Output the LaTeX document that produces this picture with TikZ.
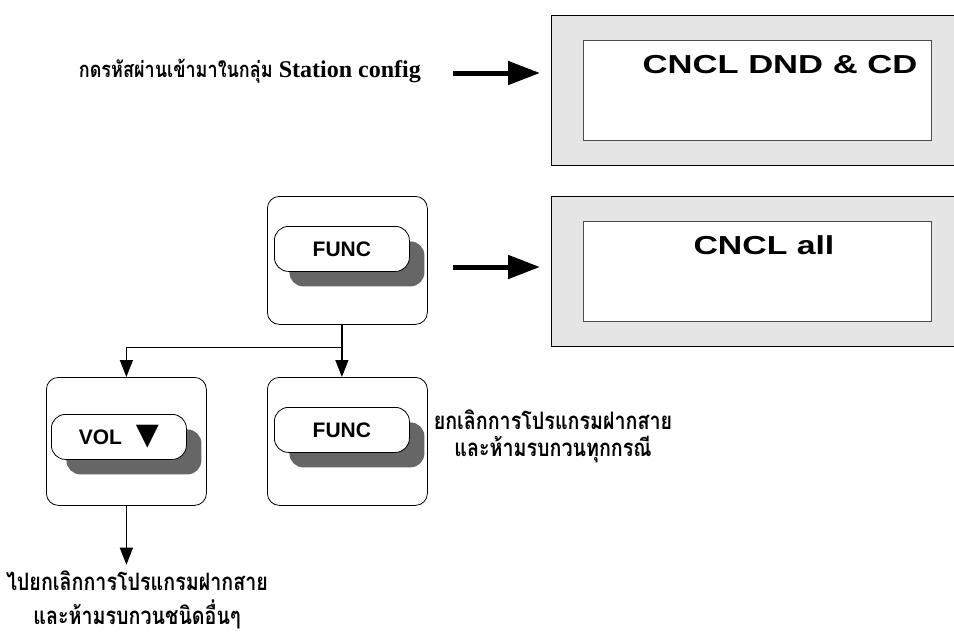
\documentclass[tikz,border=0pt]{standalone}
\usepackage{fontspec}
\setmainfont{Liberation Serif}
\newfontfamily\thaifont[Script=Thai, FakeStretch=0.82]{Loma}
\newfontfamily\keyfont{Liberation Sans}
\newfontfamily\symfont{DejaVu Sans}
\usepackage{tikz}
\usetikzlibrary{arrows.meta,shadows,positioning,calc}
\tikzset{%
  >={Triangle[width=13pt,length=17pt]},
  % screens of the set
  screen/.style = {rectangle, draw=black, fill=black!10, line width=0.8pt,
                   minimum width=410pt, minimum height=150pt,
                   anchor=north west, inner sep=0pt},
     lcd/.style = {rectangle, draw=black!70, fill=white, line width=0.8pt,
                   minimum width=348pt, minimum height=100pt,
                   anchor=north west, inner sep=0pt},
  lcdtext/.style = {inner sep=0pt,
                   font=\keyfont\bfseries\fontsize{26}{26}\selectfont},
  % keys and their panels
   panel/.style = {rectangle, rounded corners=12pt, draw=black, line width=0.8pt,
                   minimum width=160pt, minimum height=128pt,
                   anchor=north west, inner sep=0pt},
  keycap/.style = {rectangle, rounded corners=14pt, draw=black, fill=white,
                   line width=0.8pt, minimum width=135pt, minimum height=45pt,
                   anchor=north west, inner sep=0pt,
                   font=\keyfont\bfseries\fontsize{21}{21}\selectfont,
                   drop shadow={shadow xshift=15pt, shadow yshift=-15pt,
                                fill=black!60, opacity=1}},
    note/.style = {align=center, inner sep=0pt,
                   font=\thaifont\bfseries\fontsize{24}{27}\selectfont},
  bigarrow/.style = {-{Triangle[width=23pt,length=32pt]}, line width=5pt},
    link/.style = {->, line width=1.3pt},
}
\begin{document}
\begin{tikzpicture}[x=1pt, y=-1pt]
  \useasboundingbox (0,0) rectangle (954,635);
  % screens
  \node (scrA) [screen] at (551,15) {};
  \node (lcdA) [lcd] at (583,40) {};
  \node (txtA) [lcdtext] at (780,65) {\scalebox{1.33}[1]{CNCL DND \& CD}};
  \node (scrB) [screen] at (551,196) {};
  \node (lcdB) [lcd] at (583,221) {};
  \node (txtB) [lcdtext] at (764,245) {\scalebox{1.3}[1]{CNCL all}};
  % keys
  \node (boxA) [panel] at (267,196) {};
  \node (funcA) [keycap] at (274,226) {FUNC};
  \node (boxV) [panel] at (46,377) {};
  \node (vol) [keycap] at (51,414) {VOL\hspace{14pt}{\symfont\fontsize{30}{30}\selectfont ▼}};
  \node (boxB) [panel] at (267,377) {};
  \node (funcB) [keycap] at (274,407) {FUNC};
  % notes
  \node (noteTop) [note, anchor=east, font=\thaifont\bfseries\fontsize{22}{27}\selectfont] at (421,71)
    {กดรหัสผ่านเข้ามาในกลุ่ม {\rmfamily\bfseries\fontsize{24}{27}\selectfont Station config}};
  \node (noteB) [note] at (553,436) {ยกเลิกการโปรแกรมฝากสาย\\และห้ามรบกวนทุกกรณี};
  \node (noteV) [note] at (137,600) {ไปยกเลิกการโปรแกรมฝากสาย\\[7pt]และห้ามรบกวนชนิดอื่นๆ};
  % arrows
  \coordinate (inA) at (453,73);
  \coordinate (inB) at (453,267);
  \draw[bigarrow, shorten >=11pt] (inA) -- (inA -| scrA.west);
  \draw[bigarrow, shorten >=11pt] (inB) -- (inB -| scrB.west);
  \draw[link] (boxA.south -| funcA) -- (boxB.north -| funcA);
  \draw[link] (boxA.south -| funcA) -- ++(0,23) -| (boxV.north);
  \draw[link, shorten >=6pt] (boxV.south) -- (boxV.south |- noteV.north);
\end{tikzpicture}
\end{document}
